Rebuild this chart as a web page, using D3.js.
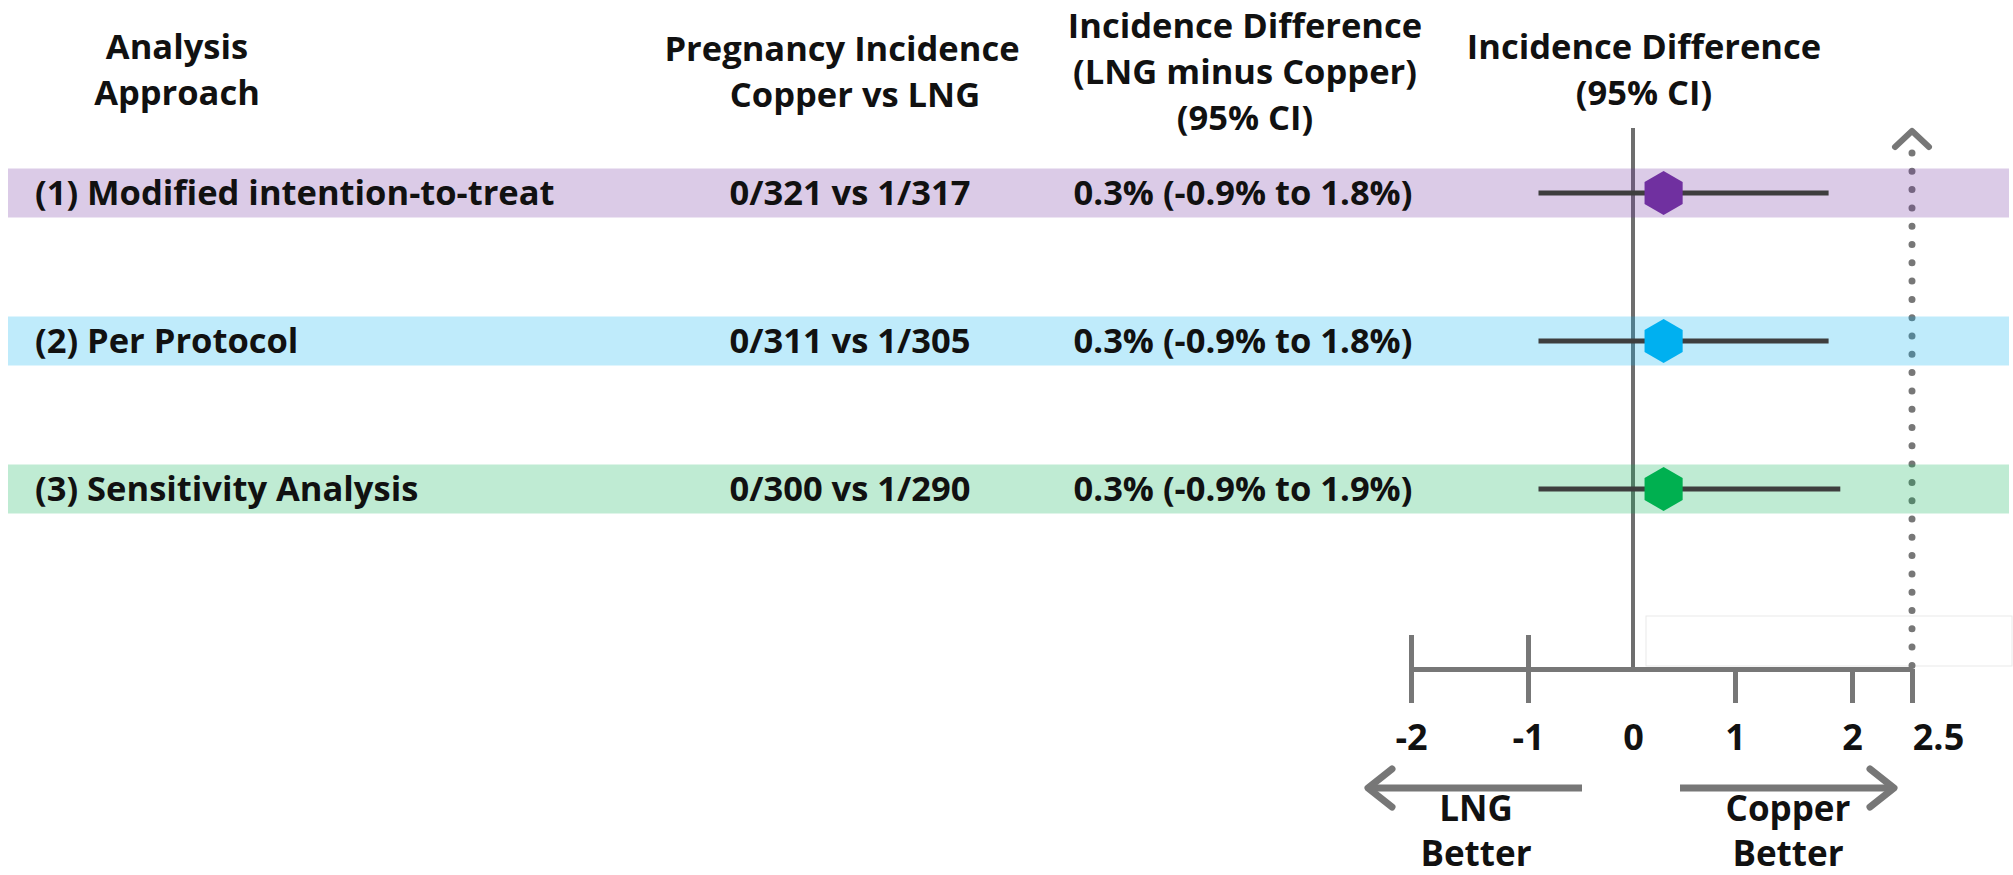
<!DOCTYPE html>
<html>
<head>
<meta charset="utf-8">
<script src="https://cdn.jsdelivr.net/npm/d3@7"></script>
<style>
  html, body { margin: 0; padding: 0; background: #ffffff; }
  svg { display: block; }
  text { font-family: "Open Sans", "Noto Sans", sans-serif; font-weight: 700; fill: #111111; }
</style>
</head>
<body>
<svg id="chart" width="2013" height="875"></svg>
<script>
// Analysis rows
const approaches = [
  "(1) Modified intention-to-treat",
  "(2) Per Protocol",
  "(3) Sensitivity Analysis"
];
const incidence = ["0/321 vs 1/317", "0/311 vs 1/305", "0/300 vs 1/290"];
const estimate = [0.3, 0.3, 0.3];
const ciLower = [-0.9, -0.9, -0.9];
const ciUpper = [1.8, 1.8, 1.9];
const rowColors = ["#7030a0", "#00b0f0", "#00b050"];

// Axis
const tickValues = [-2, -1, 0, 1, 2, 2.5];
const tickLabels = ["-2", "-1", "0", "1", "2", "2.5"];
// screen position of each tick on the hand-spaced axis
const tickPositions = [1411, 1528, 1633, 1735, 1852, 1912];

// Column headers
const headers = [
  { lines: ["Analysis", "Approach"], x: [177, 177], y: [59, 105] },
  { lines: ["Pregnancy Incidence", "Copper vs LNG"], x: [842, 855], y: [61, 107] },
  { lines: ["Incidence Difference", "(LNG minus Copper)", "(95% CI)"], x: [1245, 1245, 1245], y: [38, 84, 130] },
  { lines: ["Incidence Difference", "(95% CI)"], x: [1644, 1644], y: [59, 105] }
];

const fmt = v => (v < 0 ? "-" : "") + Math.abs(v).toFixed(1) + "%";
const rows = approaches.map((a, i) => ({
  approach: a,
  incidence: incidence[i],
  est: estimate[i],
  lo: ciLower[i],
  hi: ciUpper[i],
  color: rowColors[i],
  ciText: `${fmt(estimate[i])} (${fmt(ciLower[i])} to ${fmt(ciUpper[i])})`
}));

const svg = d3.select("#chart");
const FS = 34.5;
const axisColor = "#777777";

const x = d3.scaleLinear().domain(tickValues).range(tickPositions);
const y = d3.scalePoint().domain(approaches).range([193, 489]);
const axisY = 669;
const bandH = 49;

// Headers
headers.forEach(h => {
  h.lines.forEach((ln, k) => {
    svg.append("text")
      .attr("x", h.x[k]).attr("y", h.y[k])
      .attr("text-anchor", "middle")
      .attr("font-size", FS)
      .text(ln);
  });
});

// Faint frame near the axis
svg.append("rect")
  .attr("x", 1646).attr("y", 616).attr("width", 366).attr("height", 50)
  .attr("fill", "none").attr("stroke", "#e9e9e9").attr("stroke-width", 1);

// Zero reference line
svg.append("line")
  .attr("x1", x(0)).attr("x2", x(0))
  .attr("y1", 128).attr("y2", axisY)
  .attr("stroke", "#6e6e6e").attr("stroke-width", 4);

// Dotted upper-bound guide with chevron at the top
svg.append("line")
  .attr("x1", x(2.5)).attr("x2", x(2.5))
  .attr("y1", 153).attr("y2", axisY)
  .attr("stroke", axisColor).attr("stroke-width", 7)
  .attr("stroke-linecap", "round")
  .attr("stroke-dasharray", "0 18.3");
svg.append("path")
  .attr("d", d3.line()([[x(2.5) - 17, 147], [x(2.5), 131], [x(2.5) + 17, 147]]))
  .attr("fill", "none").attr("stroke", axisColor).attr("stroke-width", 6)
  .attr("stroke-linecap", "round").attr("stroke-linejoin", "round");

// Row bands
svg.selectAll("rect.band").data(rows).join("rect")
  .attr("class", "band")
  .attr("x", 8).attr("width", 2001)
  .attr("y", d => y(d.approach) - bandH / 2)
  .attr("height", bandH)
  .attr("fill", d => d.color).attr("fill-opacity", 0.25);

// Row text columns
svg.selectAll("text.appr").data(rows).join("text")
  .attr("class", "appr")
  .attr("x", 35).attr("y", d => y(d.approach) + 12)
  .attr("font-size", FS)
  .text(d => d.approach);
svg.selectAll("text.inc").data(rows).join("text")
  .attr("class", "inc")
  .attr("x", 850).attr("y", d => y(d.approach) + 12)
  .attr("text-anchor", "middle")
  .attr("font-size", FS)
  .text(d => d.incidence);
svg.selectAll("text.ci").data(rows).join("text")
  .attr("class", "ci")
  .attr("x", 1243).attr("y", d => y(d.approach) + 12)
  .attr("text-anchor", "middle")
  .attr("font-size", FS)
  .text(d => d.ciText);

// Confidence intervals
svg.selectAll("line.ci").data(rows).join("line")
  .attr("class", "ci")
  .attr("x1", d => x(d.lo)).attr("x2", d => x(d.hi))
  .attr("y1", d => y(d.approach)).attr("y2", d => y(d.approach))
  .attr("stroke", "#3e3e3e").attr("stroke-width", 5);

// Point estimates (hexagons)
const hexR = 22;
const hexPts = d3.range(6).map(k => {
  const a = Math.PI / 3 * k - Math.PI / 2;
  return [hexR * Math.cos(a), hexR * Math.sin(a)];
});
svg.selectAll("path.est").data(rows).join("path")
  .attr("class", "est")
  .attr("transform", d => `translate(${x(d.est)},${y(d.approach)})`)
  .attr("d", d3.line()(hexPts) + "Z")
  .attr("fill", d => d.color);

// Horizontal axis
const axisG = svg.append("g").attr("transform", `translate(0,${axisY})`)
  .call(d3.axisBottom(x).tickValues(tickValues)
    .tickFormat((d, i) => tickLabels[i]).tickSize(34).tickSizeOuter(0).tickPadding(0));
axisG.select(".domain").attr("stroke", axisColor).attr("stroke-width", 5);
axisG.selectAll(".tick line")
  .attr("stroke", axisColor).attr("stroke-width", 5)
  .attr("y1", d => d < 0 ? -34 : 0)
  .attr("y2", d => d === 0 ? 0 : 34);
axisG.selectAll(".tick text")
  .attr("fill", "#111111")
  .attr("font-size", 36)
  .attr("font-family", null)
  .attr("dy", null)
  .attr("y", 81)
  .attr("dx", d => d === 2.5 ? 26 : 0);

// Direction arrows
const arrowY = 788;
const arrows = [
  { from: 1582, to: 1368, lines: ["LNG", "Better"], cx: 1476 },
  { from: 1680, to: 1894, lines: ["Copper", "Better"], cx: 1788 }
];
arrows.forEach(a => {
  const dir = Math.sign(a.to - a.from);
  svg.append("line")
    .attr("x1", a.from).attr("x2", a.to - dir * 4)
    .attr("y1", arrowY).attr("y2", arrowY)
    .attr("stroke", axisColor).attr("stroke-width", 7);
  svg.append("path")
    .attr("d", d3.line()([[a.to - dir * 24, arrowY - 19], [a.to, arrowY], [a.to - dir * 24, arrowY + 19]]))
    .attr("fill", "none").attr("stroke", axisColor).attr("stroke-width", 7)
    .attr("stroke-linecap", "round").attr("stroke-linejoin", "round");
  a.lines.forEach((ln, k) => {
    svg.append("text")
      .attr("x", a.cx).attr("y", 821 + k * 45)
      .attr("text-anchor", "middle")
      .attr("font-size", 35)
      .text(ln);
  });
});
</script>
</body>
</html>
